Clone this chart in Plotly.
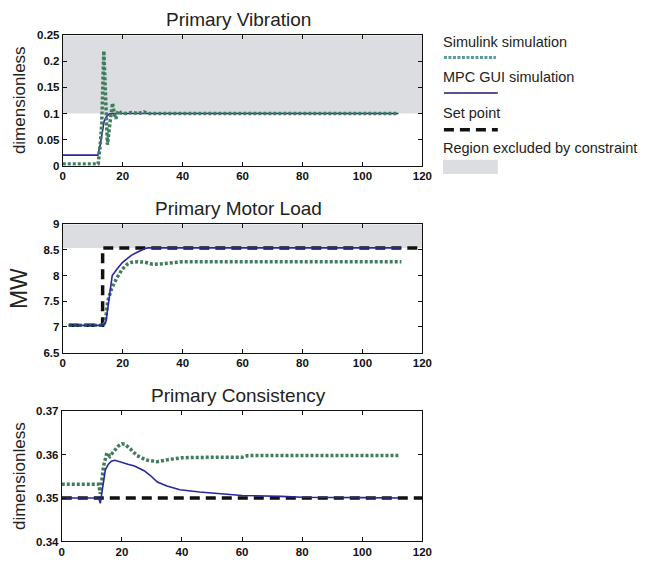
import plotly.graph_objects as go

W, H = 645, 569

# ---------------- data ----------------
# Primary Vibration
vib_sim_t = [0, 2, 4, 6, 8, 10, 11.8, 12.5, 13.0, 13.7, 14.3, 14.9, 15.5, 16.0, 16.6, 17.2, 17.7, 18.5, 19.5, 21, 23, 25, 27, 28.5, 30, 50, 80, 112]
vib_sim_y = [0.003, 0.003, 0.003, 0.003, 0.003, 0.003, 0.003, 0.04, 0.08, 0.22, 0.12, 0.04, 0.07, 0.10, 0.12, 0.10, 0.09, 0.105, 0.101, 0.1, 0.102, 0.1, 0.103, 0.1, 0.1, 0.1, 0.1, 0.1]
vib_mpc_t = [0, 11.7, 12.5, 13.2, 13.8, 14.6, 15.5, 16.5, 18, 30, 60, 112]
vib_mpc_y = [0.02, 0.02, 0.04, 0.065, 0.085, 0.094, 0.099, 0.1, 0.1, 0.1, 0.1, 0.1]
vib_limit = 0.1

# Primary Motor Load
load_sim_t = [2, 13.5, 14.2, 15, 16.3, 18, 19.8, 21.5, 23, 25, 27.5, 30, 33, 36, 40, 60, 90, 113]
load_sim_y = [7.03, 7.03, 7.1, 7.5, 7.75, 7.95, 8.12, 8.22, 8.26, 8.27, 8.26, 8.22, 8.23, 8.25, 8.27, 8.27, 8.27, 8.27]
load_mpc_t = [2, 13.5, 14.4, 15.5, 16.5, 18, 19.8, 21.5, 23, 25, 27.5, 28.5, 60, 113]
load_mpc_y = [7.03, 7.03, 7.1, 7.6, 8.0, 8.12, 8.25, 8.33, 8.4, 8.46, 8.53, 8.54, 8.54, 8.54]
load_sp_t = [2, 13.3, 13.3, 120]
load_sp_y = [7.03, 7.03, 8.54, 8.54]
load_limit = 8.54

# Primary Consistency
cons_sim_t = [0, 12.3, 12.8, 13.9, 15, 16, 17, 18.8, 20, 21, 23, 25, 28, 31.8, 35, 40, 50, 60, 62, 112]
cons_sim_y = [0.3532, 0.3532, 0.351, 0.3574, 0.3604, 0.3596, 0.3605, 0.362, 0.3625, 0.3624, 0.3612, 0.3598, 0.3588, 0.3584, 0.3588, 0.3593, 0.3594, 0.3594, 0.3598, 0.3598]
cons_mpc_t = [0, 12.3, 12.8, 13.5, 14.5, 15.5, 16.5, 17.7, 19.8, 22, 24.2, 26, 27.4, 29.5, 31.8, 35, 39.3, 45.9, 50, 56.7, 60, 73, 80, 100, 112]
cons_mpc_y = [0.35, 0.35, 0.3488, 0.3525, 0.3565, 0.3578, 0.3585, 0.3587, 0.3582, 0.3578, 0.3574, 0.3567, 0.3563, 0.3552, 0.3537, 0.3528, 0.3519, 0.3514, 0.3512, 0.3507, 0.3506, 0.3504, 0.3502, 0.3501, 0.35]
cons_sp_t = [0, 120]
cons_sp_y = [0.35, 0.35]

x_range = [0, 120]
y_ranges = [[0, 0.25], [6.5, 9], [0.34, 0.37]]
y_dticks = [0.05, 0.5, 0.01]
titles = ["Primary Vibration", "Primary Motor Load", "Primary Consistency"]
ylabels = ["dimensionless", "MW", "dimensionless"]
legend_labels = ["Simulink simulation", "MPC GUI simulation", "Set point", "Region excluded by constraint"]

# ---------------- styling ----------------
FONT = "Liberation Sans, Arial, sans-serif"
GREEN = "#3f7d5e"
BLUE = "#28289a"
GREY = "#dcdde0"
SIM_STYLE = dict(color=GREEN, width=3.5, dash="3px,2px")
MPC_STYLE = dict(color=BLUE, width=1.6)
SP_STYLE = dict(color="#111111", width=3.5, dash="10px,6px")

# pixel boxes of the three plot areas (left, right, top, bottom)
boxes = [(61, 428, 30, 163), (61, 428, 223, 354), (60, 428, 414, 547)]

fig = go.Figure()


def px(xp):
    return xp / W


def py(yp):
    return 1 - yp / H


def add_region(i, low, high):
    fig.add_trace(go.Scatter(
        x=[x_range[0], x_range[1], x_range[1], x_range[0], x_range[0]],
        y=[low, low, high, high, low],
        fill="toself", fillcolor=GREY, mode="lines", line=dict(width=0),
        hoverinfo="skip", showlegend=False,
        xaxis="x" if i == 0 else f"x{i+1}", yaxis="y" if i == 0 else f"y{i+1}"))


def add_line(i, t, y, style):
    fig.add_trace(go.Scatter(
        x=t, y=y, mode="lines", line=style, showlegend=False,
        xaxis="x" if i == 0 else f"x{i+1}", yaxis="y" if i == 0 else f"y{i+1}"))


# plot 1
add_region(0, vib_limit, y_ranges[0][1])
add_line(0, vib_mpc_t, vib_mpc_y, MPC_STYLE)
add_line(0, vib_sim_t, vib_sim_y, SIM_STYLE)
# plot 2
add_region(1, load_limit, y_ranges[1][1])
add_line(1, load_sp_t, load_sp_y, SP_STYLE)
add_line(1, load_sim_t, load_sim_y, SIM_STYLE)
add_line(1, load_mpc_t, load_mpc_y, MPC_STYLE)
# plot 3
add_line(2, cons_sp_t, cons_sp_y, SP_STYLE)
add_line(2, cons_sim_t, cons_sim_y, SIM_STYLE)
add_line(2, cons_mpc_t, cons_mpc_y, MPC_STYLE)

tickfont = dict(family=FONT, size=11.5, color="#111111", weight="bold")
layout = dict(
    width=W, height=H,
    margin=dict(l=0, r=0, t=0, b=0),
    paper_bgcolor="white", plot_bgcolor="white",
    showlegend=False,
    font=dict(family=FONT, color="#111111"),
)
annotations = []
shapes = []
for i, (l, r, t, b) in enumerate(boxes):
    sx = "" if i == 0 else str(i + 1)
    common = dict(showline=True, linecolor="#111111", linewidth=1, mirror="ticks",
                  ticks="inside", ticklen=4, tickcolor="#111111", showgrid=False,
                  zeroline=False, tickfont=tickfont)
    layout["xaxis" + sx] = dict(domain=[px(l), px(r)], range=x_range, dtick=20, tick0=0,
                                anchor="y" + sx, **common)
    layout["yaxis" + sx] = dict(domain=[py(b), py(t)], range=y_ranges[i], dtick=y_dticks[i],
                                tick0=y_ranges[i][0], anchor="x" + sx, **common)
    annotations.append(dict(text=titles[i], xref="paper", yref="paper",
                            x=px((l + r) / 2 - 4), y=py(t - 16), xanchor="center", yanchor="middle",
                            showarrow=False, font=dict(family=FONT, size=19, color="#222222")))
    annotations.append(dict(text=ylabels[i], xref="paper", yref="paper", textangle=-90,
                            x=px(17), y=py((t + b) / 2), xanchor="center", yanchor="middle",
                            showarrow=False,
                            font=dict(family=FONT, size=23 if ylabels[i] == "MW" else 17, color="#222222")))

# legend (drawn by hand: text above each sample)
leg_text_y = [37, 73, 109, 145]
for lab, ty in zip(legend_labels, leg_text_y):
    annotations.append(dict(text=lab, xref="paper", yref="paper", x=px(447), y=py(ty),
                            xanchor="left", yanchor="middle", showarrow=False,
                            font=dict(family=FONT, size=14.5, color="#222222")))
shapes.append(dict(type="line", xref="paper", yref="paper", x0=px(450), x1=px(503), y0=py(52.5), y1=py(52.5),
                   line=dict(color="#5a9a96", width=3, dash="3px,1.5px")))
shapes.append(dict(type="line", xref="paper", yref="paper", x0=px(450), x1=px(505), y0=py(89), y1=py(89),
                   line=dict(color="#5b4f8c", width=2)))
shapes.append(dict(type="line", xref="paper", yref="paper", x0=px(450), x1=px(505), y0=py(126.5), y1=py(126.5),
                   line=dict(color="#111111", width=3.5, dash="10px,6px")))
shapes.append(dict(type="rect", xref="paper", yref="paper", x0=px(449), x1=px(505), y0=py(171.5), y1=py(157),
                   line=dict(width=0), fillcolor=GREY))

layout["annotations"] = annotations
layout["shapes"] = shapes
fig.update_layout(**layout)
fig.write_html("out.html", config={"displayModeBar": False},
               post_script="document.body.style.margin='0px';document.body.style.overflow='hidden';")
